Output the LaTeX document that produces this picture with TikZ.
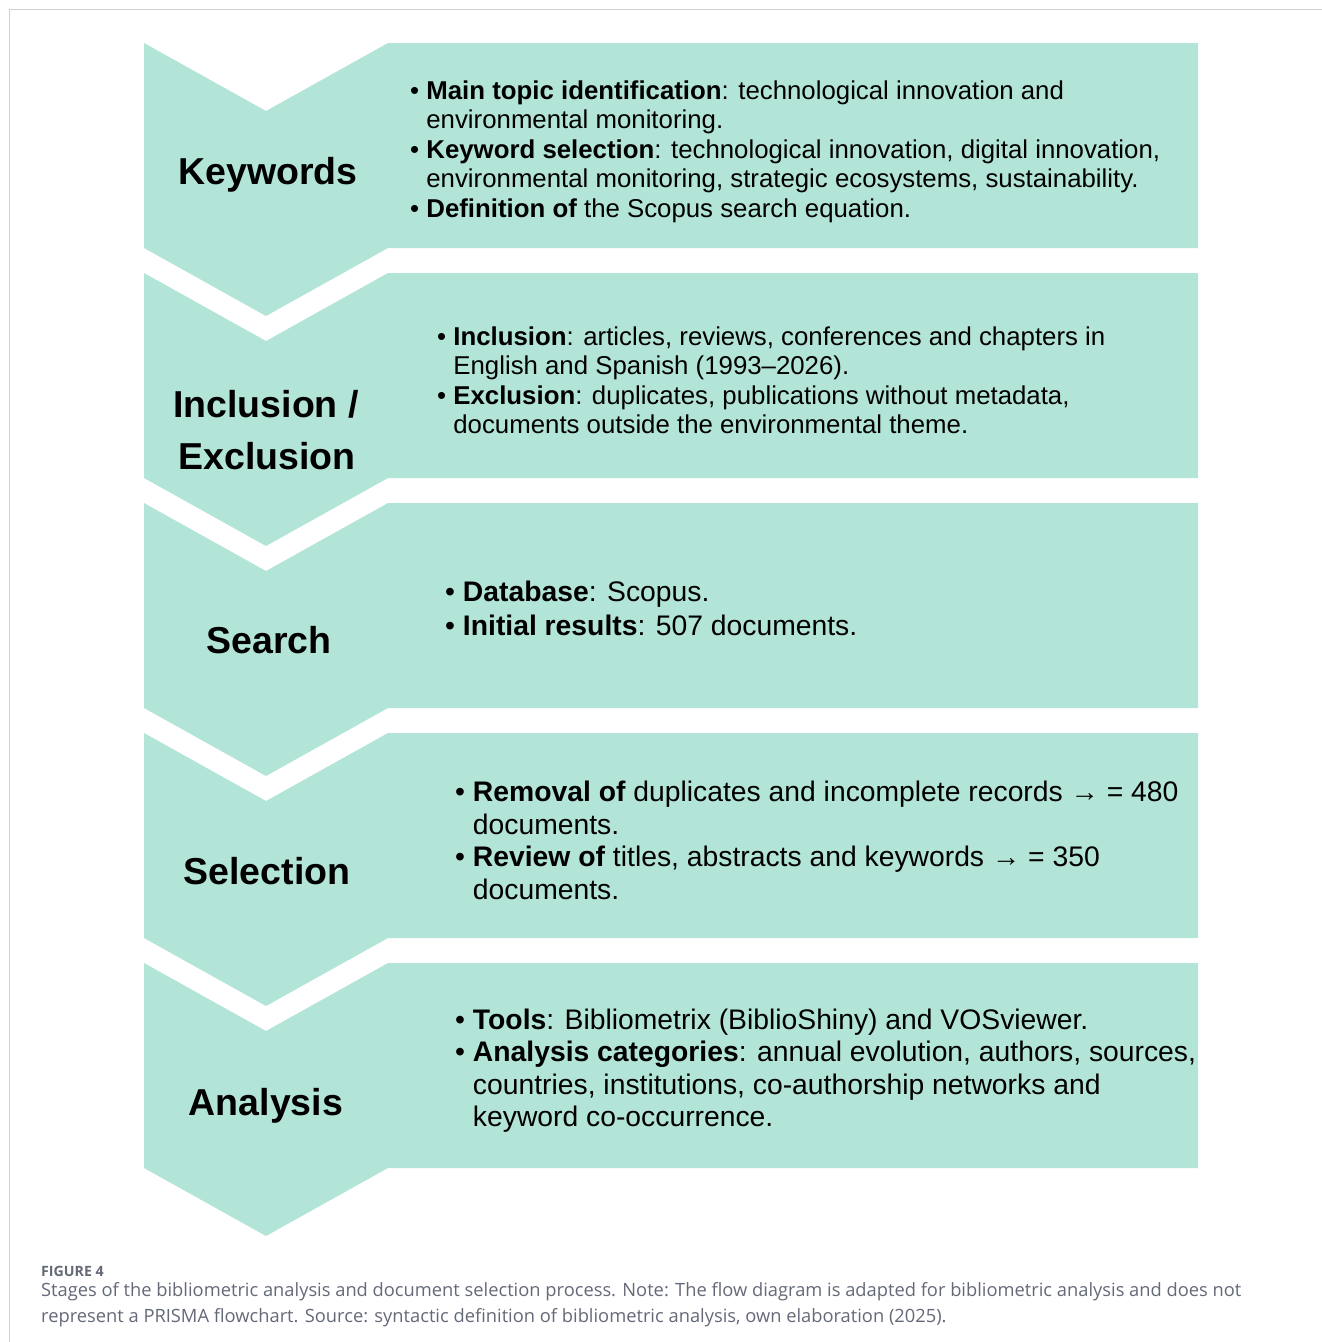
\documentclass[tikz,border=0pt]{standalone}
\usepackage{fontspec}
\setmainfont{Liberation Sans}
\newfontfamily\captionfont{Open Sans}

\definecolor{stagefill}{RGB}{179,228,216}
\definecolor{captiongray}{RGB}{100,105,120}
\definecolor{framegray}{RGB}{208,208,208}

% body text sizes of the stage boxes
\newcommand{\bodysmall}{\fontsize{25.8}{29.5}\selectfont}
\newcommand{\bodylarge}{\fontsize{28.3}{32.5}\selectfont}
\newcommand{\bodywide}{\fontsize{28.3}{34}\selectfont}

\begin{document}
\begin{tikzpicture}[x=1pt,y=-1pt,
    stage/.style={fill=stagefill,draw=none},
    stagename/.style={font=\fontsize{37.5}{45}\selectfont\bfseries,
      text height=27pt,text depth=0pt,inner sep=0,anchor=center},
    items/.style={anchor=north west,inner sep=0}]
  \useasboundingbox (0,0) rectangle (1322,1342);

  % frame
  \draw[framegray,line width=1.3pt] (1322,9.5) -- (9.5,9.5) -- (9.5,1342);

  % chevron boxes
  \foreach \t in {43,273,503,733,963}
    \fill[stage] (144,\t) -- (266,\t+68) -- (388,\t) -- (1198,\t)
      -- (1198,\t+205) -- (388,\t+205) -- (266,\t+273) -- (144,\t+205) -- cycle;

  % stage names
  \node[stagename] (kw) at (268,171) {Keywords};
  \node[stagename] (incl) at (266,404) {Inclusion /};
  \node[stagename] (excl) at (267,456) {Exclusion};
  \node[stagename] (search) at (269,640) {Search};
  \node[stagename] (sel) at (267,871) {Selection};
  \node[stagename] (ana) at (266,1102) {Analysis};

  % stage contents
  \node[items,font=\bodysmall] (kwtext) at (410,78.5) {\begin{tabular}{@{}l@{\ }l@{}}
    \textbullet & \textbf{Main topic identification}: technological innovation and\\
    & environmental monitoring.\\
    \textbullet & \textbf{Keyword selection}: technological innovation, digital innovation,\\
    & environmental monitoring, strategic ecosystems, sustainability.\\
    \textbullet & \textbf{Definition of} the Scopus search equation.
  \end{tabular}};
  \node[items,font=\bodysmall] (incltext) at (437,324.5) {\begin{tabular}{@{}l@{\ }l@{}}
    \textbullet & \textbf{Inclusion}: articles, reviews, conferences and chapters in\\
    & English and Spanish (1993–2026).\\
    \textbullet & \textbf{Exclusion}: duplicates, publications without metadata,\\
    & documents outside the environmental theme.
  \end{tabular}};
  \node[items,font=\bodywide] (searchtext) at (445,577) {\begin{tabular}{@{}l@{\ }l@{}}
    \textbullet & \textbf{Database}: Scopus.\\
    \textbullet & \textbf{Initial results}: 507 documents.
  \end{tabular}};
  \node[items,font=\bodylarge] (seltext) at (455,779) {\begin{tabular}{@{}l@{\ }l@{}}
    \textbullet & \textbf{Removal of} duplicates and incomplete records → = 480\\
    & documents.\\
    \textbullet & \textbf{Review of} titles, abstracts and keywords → = 350\\
    & documents.
  \end{tabular}};
  \node[items,font=\bodylarge] (anatext) at (455,1006.5) {\begin{tabular}{@{}l@{\ }l@{}}
    \textbullet & \textbf{Tools}: Bibliometrix (BiblioShiny) and VOSviewer.\\
    \textbullet & \textbf{Analysis categories}: annual evolution, authors, sources,\\
    & countries, institutions, co-authorship networks and\\
    & keyword co-occurrence.
  \end{tabular}};

  % caption
  \node[anchor=base west,inner sep=0,text=captiongray,
    font=\captionfont\fontsize{14.2}{17}\selectfont\bfseries] (fig) at (41,1276) {FIGURE 4};
  \node[anchor=base west,inner sep=0,text=captiongray,align=left,
    font=\captionfont\fontsize{18.3}{26}\selectfont] (caption) at (41,1322)
    {Stages of the bibliometric analysis and document selection process. Note: The flow diagram is adapted for bibliometric analysis and does not\\
     represent a PRISMA flowchart. Source: syntactic definition of bibliometric analysis, own elaboration (2025).};
\end{tikzpicture}
\end{document}
